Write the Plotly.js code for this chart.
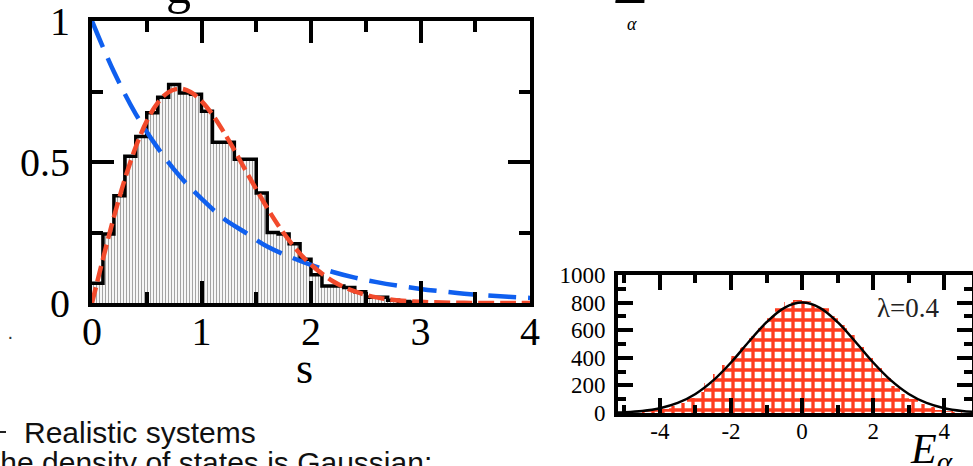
<!DOCTYPE html>
<html>
<head>
<meta charset="utf-8">
<script src="https://cdn.plot.ly/plotly-3.0.1.min.js"></script>
<style>
  html, body { margin: 0; padding: 0; background: #ffffff; }
  #chart { width: 973px; height: 466px; }
</style>
</head>
<body>
<div id="chart"></div>
<script>
// ---------- Level-spacing histogram (main panel) ----------
const spacingBins = [0.05,0.15,0.25,0.35,0.45,0.55,0.65,0.75,0.85,0.95,
                     1.05,1.15,1.25,1.35,1.45,1.55,1.65,1.75,1.85,1.95,
                     2.05,2.15,2.25,2.35,2.45,2.55,2.65,2.75,2.85,2.95];
const spacingHist = [0.07,0.245,0.38,0.52,0.59,0.675,0.73,0.775,0.745,0.74,
                     0.68,0.57,0.57,0.51,0.51,0.39,0.25,0.245,0.21,0.155,
                     0.10,0.06,0.06,0.055,0.04,0.02,0.02,0.01,0.005,0.003];
// red dashed curve (Wigner surmise)
const wignerS = [0,0.1,0.2,0.3,0.4,0.5,0.6,0.7,0.8,0.9,1.0,1.1,1.2,1.3,1.4,1.5,1.6,1.7,1.8,1.9,2.0,
                 2.2,2.4,2.6,2.8,3.0,3.2,3.4,3.6,3.8,4.0];
const wignerP = [0,0.156,0.305,0.439,0.554,0.645,0.71,0.748,0.76,0.748,0.716,0.668,0.608,0.542,0.472,0.403,0.337,0.276,0.222,0.175,0.136,
                 0.077,0.041,0.020,0.009,0.004,0.0015,0.0005,0.0002,0.0001,0];
// blue dashed curve (Poisson)
const poissonS = [0,0.2,0.4,0.6,0.8,1.0,1.2,1.4,1.6,1.8,2.0,2.2,2.4,2.6,2.8,3.0,3.2,3.4,3.6,3.8,4.0];
const poissonP = [1,0.82,0.67,0.55,0.45,0.37,0.30,0.25,0.20,0.165,0.135,0.11,0.09,0.074,0.061,0.05,0.041,0.033,0.027,0.022,0.018];
const mainXTicks = [0,1,2,3,4];
const mainYTicks = [0,0.5,1];

// ---------- Density of states (inset) ----------
const dosE = [-4.375,-4.125,-3.875,-3.625,-3.375,-3.125,-2.875,-2.625,-2.375,-2.125,-1.875,-1.625,
              -1.375,-1.125,-0.875,-0.625,-0.375,-0.125,0.125,0.375,0.625,0.875,1.125,1.375,
              1.625,1.875,2.125,2.375,2.625,2.875,3.125,3.375,3.625,3.875,4.125,4.375];
const dosCounts = [12,20,32,50,75,110,155,215,280,345,410,480,
                   560,630,700,760,805,820,815,790,760,705,640,565,
                   480,400,325,255,195,140,100,65,42,25,14,8];
const gaussE = [-5.5,-5,-4.5,-4,-3.5,-3,-2.5,-2,-1.5,-1,-0.5,0,0.5,1,1.5,2,2.5,3,3.5,4,4.5,5,5.5];
const gaussN = [2,6,15,35,73,138,236,366,516,658,762,800,762,658,516,366,236,138,73,35,15,6,2];
const insetXTicks = [-4,-2,0,2,4];
const insetYTicks = [0,200,400,600,800,1000];
const insetLabel = "λ=0.4";

// ---------- geometry helpers (pixels -> paper) ----------
const W = 973, H = 466;
const px = x => x / W;
const py = y => 1 - y / H;

// step outline built from the histogram arrays
const binW = 0.1;
const stepX = spacingBins.map(c => +(c - binW/2).toFixed(3)).concat([+(spacingBins[spacingBins.length-1] + binW/2).toFixed(3)]);
const stepY = spacingHist.concat([0]);

const serif = "Liberation Serif, Times New Roman, serif";
const sans = "Liberation Sans, Arial, sans-serif";

const traces = [
  { type: 'bar', x: spacingBins, y: spacingHist, width: binW, xaxis: 'x', yaxis: 'y',
    marker: { color: '#ffffff', line: { width: 0 },
      pattern: { shape: '|', fgcolor: '#9a9a9a', bgcolor: '#f6f6f6', size: 3, solidity: 0.3 } },
    hoverinfo: 'skip', showlegend: false },
  { type: 'scatter', mode: 'lines', x: stepX, y: stepY, xaxis: 'x', yaxis: 'y',
    line: { color: '#000000', width: 3.5, shape: 'hv' }, showlegend: false, hoverinfo: 'skip' },
  { type: 'scatter', mode: 'lines', x: poissonS, y: poissonP, xaxis: 'x', yaxis: 'y',
    line: { color: '#0f5fef', width: 4.5, dash: '28px,12px', shape: 'spline' }, showlegend: false, hoverinfo: 'skip' },
  { type: 'scatter', mode: 'lines', x: wignerS, y: wignerP, xaxis: 'x', yaxis: 'y',
    line: { color: '#f24a2c', width: 4.5, dash: '16px,6px', shape: 'spline' }, showlegend: false, hoverinfo: 'skip' },

  { type: 'bar', x: dosE, y: dosCounts, width: 0.25, xaxis: 'x2', yaxis: 'y2',
    marker: { color: '#ffffff', line: { width: 0 },
      pattern: { shape: '+', fgcolor: '#ff3d20', bgcolor: '#ffffff', size: 10, solidity: 0.55 } },
    hoverinfo: 'skip', showlegend: false },
  { type: 'scatter', mode: 'lines', x: gaussE, y: gaussN, xaxis: 'x2', yaxis: 'y2',
    line: { color: '#000000', width: 2.5, shape: 'spline' }, showlegend: false, hoverinfo: 'skip' }
];

const mainAxisCommon = {
  showline: true, linecolor: '#000', linewidth: 4, mirror: 'allticks',
  ticks: 'inside', tickcolor: '#000', tickwidth: 4, ticklen: 22,
  showgrid: false, zeroline: false, ticklabeloverflow: 'allow',
  tickfont: { family: serif, size: 40, color: '#000' }
};
const insetAxisCommon = {
  showline: true, linecolor: '#000', linewidth: 4, mirror: 'allticks',
  ticks: 'inside', tickcolor: '#000', tickwidth: 4, ticklen: 15,
  showgrid: false, zeroline: false, ticklabeloverflow: 'allow',
  tickfont: { family: serif, size: 23, color: '#000' }
};

const layout = {
  width: W, height: H,
  margin: { l: 0, r: 0, t: 0, b: 0 },
  paper_bgcolor: '#ffffff', plot_bgcolor: '#ffffff',
  bargap: 0, showlegend: false,
  xaxis: Object.assign({}, mainAxisCommon, {
    domain: [px(92), px(530)], range: [0, 4], anchor: 'y',
    tickmode: 'array', tickvals: mainXTicks, ticktext: mainXTicks.map(String),
    ticklabelstandoff: -10,
    minor: { dtick: 0.5, tick0: 0, ticks: 'inside', ticklen: 11, tickwidth: 4, tickcolor: '#000' }
  }),
  yaxis: Object.assign({}, mainAxisCommon, {
    domain: [py(303), py(21)], range: [0, 1], anchor: 'x',
    tickmode: 'array', tickvals: mainYTicks, ticktext: mainYTicks.map(String),
    ticklabelstandoff: 10,
    minor: { dtick: 0.25, tick0: 0, ticks: 'inside', ticklen: 11, tickwidth: 4, tickcolor: '#000' }
  }),
  xaxis2: Object.assign({}, insetAxisCommon, {
    domain: [px(618), px(972)], range: [-5.18, 4.78], anchor: 'y2',
    tickmode: 'array', tickvals: insetXTicks, ticktext: insetXTicks.map(String),
    ticklabelstandoff: -6,
    minor: { dtick: 1, tick0: 0, ticks: 'inside', ticklen: 8, tickwidth: 4, tickcolor: '#000' }
  }),
  yaxis2: Object.assign({}, insetAxisCommon, {
    domain: [py(413), py(275)], range: [0, 1000], anchor: 'x2',
    tickmode: 'array', tickvals: insetYTicks, ticktext: insetYTicks.map(String),
    ticklabelstandoff: 4,
    minor: { dtick: 100, tick0: 0, ticks: 'inside', ticklen: 8, tickwidth: 4, tickcolor: '#000' }
  }),
  shapes: [
    { type: 'line', xref: 'paper', yref: 'paper', x0: px(0), x1: px(6), y0: py(432), y1: py(432),
      line: { color: '#222', width: 2 } }
  ],
  annotations: [
    { text: 's', xref: 'paper', yref: 'paper', x: px(304), y: py(368), xanchor: 'center', yanchor: 'middle',
      showarrow: false, font: { family: serif, size: 44, color: '#000' } },
    { text: insetLabel, xref: 'paper', yref: 'paper', x: px(908), y: py(308), xanchor: 'center', yanchor: 'middle',
      showarrow: false, font: { family: serif, size: 27, color: '#222' } },
    { text: '<i>E</i><sub><i>α</i></sub>', xref: 'paper', yref: 'paper', x: px(908), y: py(424), xanchor: 'left', yanchor: 'top',
      showarrow: false, font: { family: serif, size: 42, color: '#000' } },
    { text: 'Realistic systems', xref: 'paper', yref: 'paper', x: px(22), y: py(432), xanchor: 'left', yanchor: 'middle',
      showarrow: false, font: { family: sans, size: 30, color: '#111' } },
    { text: 'The density of states is Gaussian:', xref: 'paper', yref: 'paper', x: px(-20), y: py(444), xanchor: 'left', yanchor: 'top',
      showarrow: false, font: { family: sans, size: 30, color: '#111' } },
    { text: 'g', xref: 'paper', yref: 'paper', x: px(178), y: py(-14), xanchor: 'center', yanchor: 'middle',
      showarrow: false, font: { family: serif, size: 50, color: '#000' } },
    { text: 'Σ', xref: 'paper', yref: 'paper', x: px(630), y: py(18), xanchor: 'center', yanchor: 'bottom',
      showarrow: false, font: { family: serif, size: 60, color: '#000' } },
    { text: '<i>α</i>', xref: 'paper', yref: 'paper', x: px(632), y: py(24), xanchor: 'center', yanchor: 'middle',
      showarrow: false, font: { family: serif, size: 18, color: '#000' } },
    { text: '·', xref: 'paper', yref: 'paper', x: px(10), y: py(336), xanchor: 'center', yanchor: 'middle',
      showarrow: false, font: { family: sans, size: 20, color: '#333' } }
  ]
};

Plotly.newPlot('chart', traces, layout, { staticPlot: true, displayModeBar: false });
</script>
</body>
</html>
